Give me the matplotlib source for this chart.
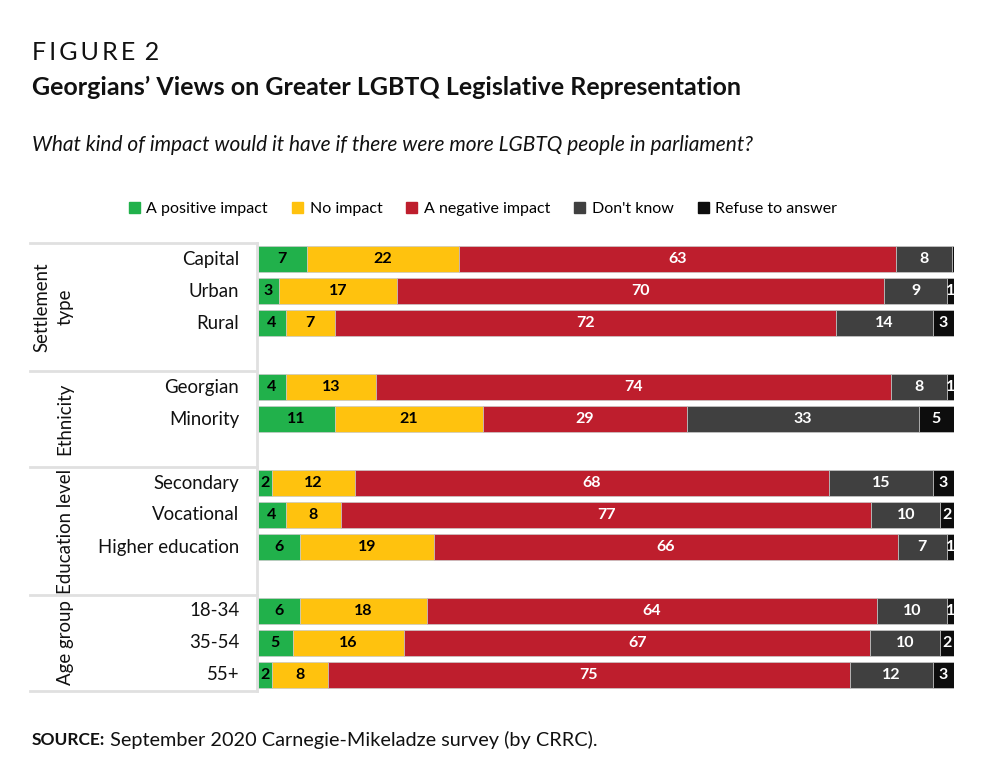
import matplotlib.pyplot as plt
import matplotlib.transforms as mtransforms
import numpy as np

plt.rcParams["font.family"] = ["Lato", "DejaVu Sans"]

# data (percent)
groups = ["Settlement\ntype", "Ethnicity", "Education level", "Age group"]
group_rows = [
    ["Capital", "Urban", "Rural"],
    ["Georgian", "Minority"],
    ["Secondary", "Vocational", "Higher education"],
    ["18-34", "35-54", "55+"],
]
answers = ["A positive impact", "No impact", "A negative impact", "Don't know", "Refuse to answer"]
positive = [7, 3, 4, 4, 11, 2, 4, 6, 6, 5, 2]
no_impact = [22, 17, 7, 13, 21, 12, 8, 19, 18, 16, 8]
negative = [63, 70, 72, 74, 29, 68, 77, 66, 64, 67, 75]
dont_know = [8, 9, 14, 8, 33, 15, 10, 7, 10, 10, 12]
refuse = [0.3, 1, 3, 1, 5, 3, 2, 1, 1, 2, 3]

colors = ["#21b14b", "#ffc20e", "#be1e2d", "#404040", "#0d0d0d"]
text_colors = ["black", "black", "white", "white", "white"]


def main():
    fig = plt.figure(figsize=(10, 7.7), dpi=100)
    draw_header(fig)
    ax = fig.add_axes([0.258, 1 - 691 / 770, 0.696, 448 / 770])
    draw_bars(ax)
    draw_labels(ax)
    fig.savefig("out.png", dpi=100)


def draw_header(fig):
    fig.text(0.032, 1 - 52 / 770, "F\u2009I\u2009G\u2009U\u2009R\u2009E\u2009 2", fontsize=18,
             va="center", ha="left", color="#111111")
    fig.text(0.032, 1 - 87 / 770, "Georgians\u2019 Views on Greater LGBTQ Legislative Representation",
             fontsize=18, fontweight="bold", va="center", ha="left", color="#111111")
    fig.text(0.032, 1 - 145 / 770,
             "What kind of impact would it have if there were more LGBTQ people in parliament?",
             fontsize=15, style="italic", va="center", ha="left", color="#111111")

    # source line: bold label, then plain text right after it
    src = fig.text(0.032, 1 - 740 / 770, "SOURCE:", fontsize=12.5, fontweight="bold",
                   va="center", ha="left", color="#111111")
    fig.canvas.draw()
    bb = src.get_window_extent()
    fig.text(bb.x1 / fig.bbox.width, 1 - 740 / 770,
             " September 2020 Carnegie-Mikeladze survey (by CRRC).", fontsize=14.3,
             va="center", ha="left", color="#111111")

    handles = [plt.Rectangle((0, 0), 1, 1, color=c) for c in colors]
    fig.legend(handles, answers, loc="center", bbox_to_anchor=(0.483, 1 - 209 / 770), ncol=5,
               frameon=False, fontsize=11.5, handlelength=0.7, handleheight=0.7,
               handletextpad=0.4, columnspacing=1.5)


def draw_bars(ax):
    series = np.array([positive, no_impact, negative, dont_know, refuse], dtype=float)
    shares = series / series.sum(axis=0) * 100

    ypos = []
    pos = 0
    for rows in group_rows:
        for _ in rows:
            ypos.append(pos)
            pos += 1
        pos += 1
    ypos = np.array(ypos)

    left = np.zeros(len(ypos))
    for i in range(len(series)):
        ax.barh(ypos, shares[i], left=left, height=0.8, color=colors[i],
                edgecolor="#c8c8c8", linewidth=0.5)
        for y, l, w, v in zip(ypos, left, shares[i], series[i]):
            if v >= 1:
                ax.text(l + w / 2, y, f"{v:.0f}", ha="center", va="center",
                        fontsize=11.5, fontweight="bold", color=text_colors[i])
        left += shares[i]

    ax.set_xlim(0, 100)
    ax.set_ylim(13.5, -0.5)
    ax.axis("off")
    ax.ypos = ypos


def draw_labels(ax):
    trans = mtransforms.blended_transform_factory(ax.transAxes, ax.transData)
    x_left = (30 - 258) / 696
    bounds = [-0.5]
    k = 0
    for g, rows in zip(groups, group_rows):
        start = ax.ypos[k]
        for name in rows:
            ax.text(-0.027, ax.ypos[k], name, transform=trans, ha="right", va="center",
                    fontsize=13.4, color="#111111")
            k += 1
        end = start + len(rows)
        bounds.append(end + 0.5 if k < len(ax.ypos) else end - 0.5)
        xg = -0.294 if "\n" in g else -0.277
        ax.text(xg, (bounds[-2] + bounds[-1]) / 2, g, transform=trans, rotation=90,
                ha="center", va="center", fontsize=13.4, color="#111111",
                multialignment="center", linespacing=1.45)

    for b in bounds:
        ax.plot([x_left, -0.002], [b, b], transform=trans, color="#e0e0e0",
                linewidth=2, clip_on=False)
    ax.plot([-0.002, -0.002], [bounds[0], bounds[-1]], transform=trans, color="#e0e0e0",
            linewidth=2, clip_on=False)


if __name__ == "__main__":
    main()
